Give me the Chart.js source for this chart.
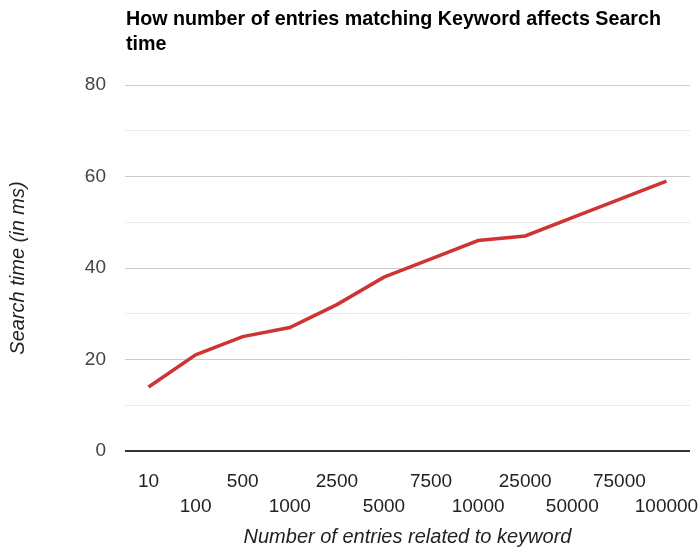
<!DOCTYPE html>
<html><head><meta charset="utf-8">
<script src="https://cdn.jsdelivr.net/npm/chart.js@4"></script>
<style>html,body{margin:0;padding:0;background:#fff}#wrap{width:700px;height:553px}</style>
</head><body><div id="wrap"><canvas id="c" width="700" height="553"></canvas></div>
<script>
const categories = ['10','100','500','1000','2500','5000','7500','10000','25000','50000','75000','100000'];
const searchTime = [14,21,25,27,32,38,42,46,47,51,55,59];
const titleLines = ['How number of entries matching Keyword affects Search','time'];
const FONT = "'Liberation Sans', Arial, sans-serif";

const titlePlugin = {
  id: 'leftTitle',
  afterDraw(chart) {
    const ctx = chart.ctx;
    ctx.save();
    ctx.font = "bold 19.7px " + FONT;
    ctx.fillStyle = '#000';
    ctx.textBaseline = 'alphabetic';
    ctx.textAlign = 'left';
    titleLines.forEach((t, i) => ctx.fillText(t, 126, 25 + i * 25));
    ctx.restore();
  }
};

new Chart(document.getElementById('c'), {
  type: 'line',
  data: { labels: categories, datasets: [{ data: searchTime, borderColor: '#cf3434', borderWidth: 3.5, pointRadius: 0, tension: 0, fill: false }] },
  options: {
    responsive: false, animation: false,
    layout: { padding: { top: 85, right: 10, left: 0, bottom: 0 } },
    plugins: { legend: { display: false }, tooltip: { enabled: false }, title: { display: false } },
    scales: {
      x: {
        offset: true,
        grid: { display: false }, border: { display: false },
        ticks: {
          autoSkip: false, maxRotation: 0, minRotation: 0, padding: 10, color: '#222',
          font: { family: FONT, size: 19, lineHeight: 1.32 },
          callback: function(v, i) { const l = this.getLabelForValue(v); return i % 2 ? ['', l] : [l]; }
        },
        title: { display: true, text: 'Number of entries related to keyword', color: '#222', font: { family: FONT, size: 20, style: 'italic' }, padding: { top: 0, bottom: 4 } },
        afterFit(s) { s.height = 102; s.paddingLeft = 0; s.paddingRight = 0; }
      },
      y: {
        min: 0, max: 80,
        border: { display: false },
        grid: {
          drawTicks: false,
          color: c => c.tick.value === 0 ? '#333' : (c.tick.value % 20 === 0 ? '#cccccc' : '#ebebeb'),
          lineWidth: c => c.tick.value === 0 ? 2 : 1
        },
        ticks: { stepSize: 10, padding: 19, color: '#444', font: { family: FONT, size: 19 },
          callback: v => v % 20 === 0 ? v : '' },
        title: { display: true, text: 'Search time (in ms)', color: '#222', font: { family: FONT, size: 20, style: 'italic' }, padding: { top: 6, bottom: 0 } },
        afterFit(s) { s.width = 125; }
      }
    }
  },
  plugins: [titlePlugin]
});
</script></body></html>
